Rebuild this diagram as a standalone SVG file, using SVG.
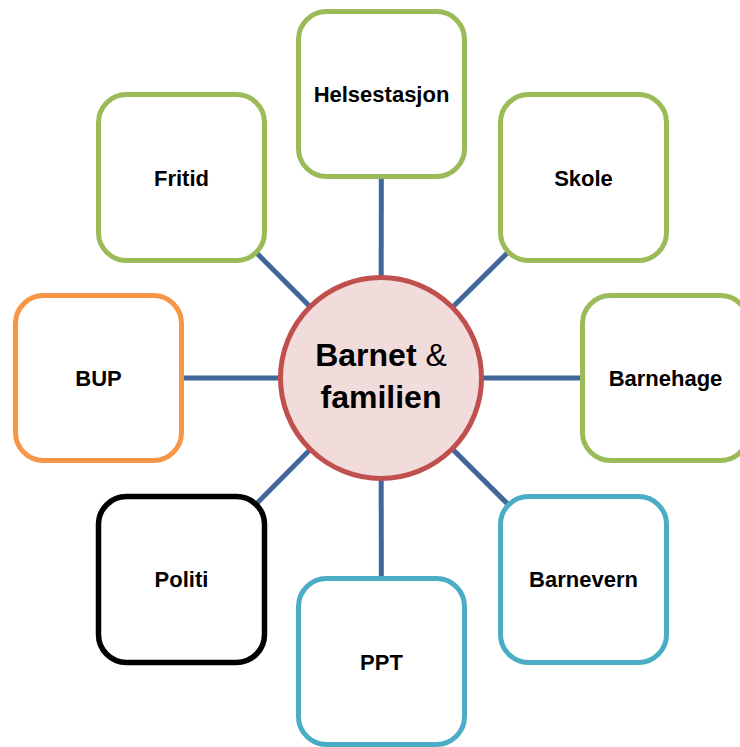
<svg xmlns="http://www.w3.org/2000/svg" width="740" height="747" viewBox="0 0 740 747">
<style>
.box{fill:#FFFFFF;stroke-width:5}
.g{stroke:#9BBB59}
.o{stroke:#F79646}
.t{stroke:#4BACC6}
.k{stroke:#000000;stroke-width:5.5}
.lbl{font-family:"Liberation Sans",Arial,sans-serif;font-weight:bold;font-size:22px;fill:#000;text-anchor:middle}
.ctr{font-family:"Liberation Sans",Arial,sans-serif;font-weight:bold;font-size:32px;fill:#000;text-anchor:middle}
#connectors line{stroke:#41679A;stroke-width:5}
</style>
<rect width="740" height="747" fill="#FFFFFF"/>
<g id="connectors">
<line x1="381" y1="378" x2="381.5" y2="94"/>
<line x1="381" y1="378" x2="181.5" y2="177.5"/>
<line x1="381" y1="378" x2="583.5" y2="177.5"/>
<line x1="381" y1="378" x2="98.5" y2="378"/>
<line x1="381" y1="378" x2="666.5" y2="378"/>
<line x1="381" y1="378" x2="181.5" y2="579.5"/>
<line x1="381" y1="378" x2="583.5" y2="579.5"/>
<line x1="381" y1="378" x2="381.5" y2="661.5"/>
</g>
<g id="helsestasjon">
<rect class="box g" x="298.5" y="11.5" width="166" height="165" rx="28"/>
<text class="lbl" x="381.5" y="102">Helsestasjon</text>
</g>
<g id="fritid">
<rect class="box g" x="98.5" y="94.5" width="166" height="166" rx="28"/>
<text class="lbl" x="181.5" y="185.5">Fritid</text>
</g>
<g id="skole">
<rect class="box g" x="500.5" y="94.5" width="166" height="166" rx="28"/>
<text class="lbl" x="583.5" y="185.5">Skole</text>
</g>
<g id="bup">
<rect class="box o" x="15.5" y="295.5" width="166" height="165" rx="28"/>
<text class="lbl" x="98.5" y="386">BUP</text>
</g>
<g id="barnehage">
<rect class="box g" x="582.5" y="295.5" width="166" height="165" rx="28"/>
<text class="lbl" x="665.5" y="386">Barnehage</text>
</g>
<g id="politi">
<rect class="box k" x="98.5" y="496.5" width="166" height="166" rx="28"/>
<text class="lbl" x="181.5" y="587">Politi</text>
</g>
<g id="barnevern">
<rect class="box t" x="500.5" y="496.5" width="166" height="166" rx="28"/>
<text class="lbl" x="583.5" y="587">Barnevern</text>
</g>
<g id="ppt">
<rect class="box t" x="298.5" y="578.5" width="166" height="166" rx="28"/>
<text class="lbl" x="381.5" y="670">PPT</text>
</g>
<g id="barnet-familien">
<circle cx="381" cy="378" r="100.5" fill="#F2DCDB" stroke="#C0504D" stroke-width="5"/>
<text class="ctr" x="381" y="366">Barnet <tspan font-weight="normal">&amp;</tspan></text>
<text class="ctr" x="381" y="408">familien</text>
</g>
</svg>
